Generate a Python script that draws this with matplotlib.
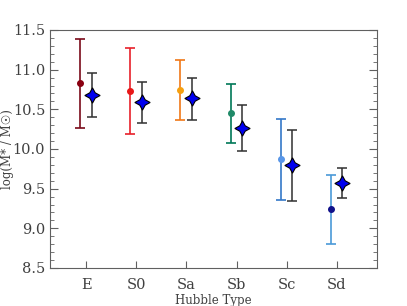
import matplotlib
matplotlib.use("Agg")
import matplotlib.pyplot as plt
from matplotlib.ticker import MultipleLocator

plt.rcParams['font.family'] = ['DejaVu Serif', 'DejaVu Sans']

TYPES = ["E", "S0", "Sa", "Sb", "Sc", "Sd"]

# coloured points (per Hubble type)
type_mass = [10.83, 10.73, 10.74, 10.45, 9.87, 9.24]
type_lo = [10.27, 10.19, 10.37, 10.08, 9.36, 8.80]
type_hi = [11.39, 11.27, 11.12, 10.82, 10.38, 9.67]

# blue diamonds
blue_mass = [10.68, 10.59, 10.64, 10.27, 9.80, 9.57]
blue_lo = [10.40, 10.33, 10.37, 9.98, 9.35, 9.38]
blue_hi = [10.96, 10.84, 10.90, 10.55, 10.24, 9.76]

line_colors = ["#7a0a1a", "#e8202a", "#f07818", "#007858", "#3478c8", "#4a9ad8"]
dot_colors = ["#8a0010", "#e81818", "#f5a010", "#208a68", "#5896e8", "#10108a"]

fig = plt.figure(figsize=(4.07, 3.06), dpi=100)
ax = fig.add_axes([0.1229, 0.1242, 0.8034, 0.7778])

for i in range(len(TYPES)):
    x = i - 0.12
    ax.errorbar(x, type_mass[i],
                yerr=[[type_mass[i] - type_lo[i]], [type_hi[i] - type_mass[i]]],
                fmt='o', color=line_colors[i], mfc=dot_colors[i], mec=dot_colors[i],
                ms=4, elinewidth=1.2, capsize=3.5, capthick=1.2)
    xb = i + 0.11
    ax.errorbar(xb, blue_mass[i],
                yerr=[[blue_mass[i] - blue_lo[i]], [blue_hi[i] - blue_mass[i]]],
                fmt='none', ecolor='#303030', elinewidth=1.1, capsize=3.5, capthick=1.1)
    ax.plot(xb, blue_mass[i], marker=(4, 1, 0), ms=11, mfc='#0000ee', mec='black', mew=0.8)

ax.set_xlim(-0.72, 5.8)
ax.set_ylim(8.5, 11.5)
ax.set_xticks(range(len(TYPES)))
ax.set_xticklabels(TYPES)
ax.yaxis.set_major_locator(MultipleLocator(0.5))
ax.yaxis.set_minor_locator(MultipleLocator(0.1))
ax.tick_params(axis='y', which='both', direction='in', left=True, right=True, colors='#606060',
               labelcolor='#404040', labelsize=10.5)
ax.tick_params(axis='y', which='major', length=6)
ax.tick_params(axis='y', which='minor', length=3)
ax.tick_params(axis='x', direction='in', top=False, length=5, colors='#606060',
               labelcolor='#404040', labelsize=10.5, pad=7)
for s in ax.spines.values():
    s.set_color('#606060')

ax.set_xlabel('Hubble Type', fontsize=8.5, color='#404040')
ax.xaxis.set_label_coords(0.5, -0.11)
ax.set_ylabel('log(M* / M\u2609)', fontsize=8.5, color='#404040')
ax.yaxis.set_label_coords(-0.11, 0.5)

fig.savefig("out.png", dpi=100)
